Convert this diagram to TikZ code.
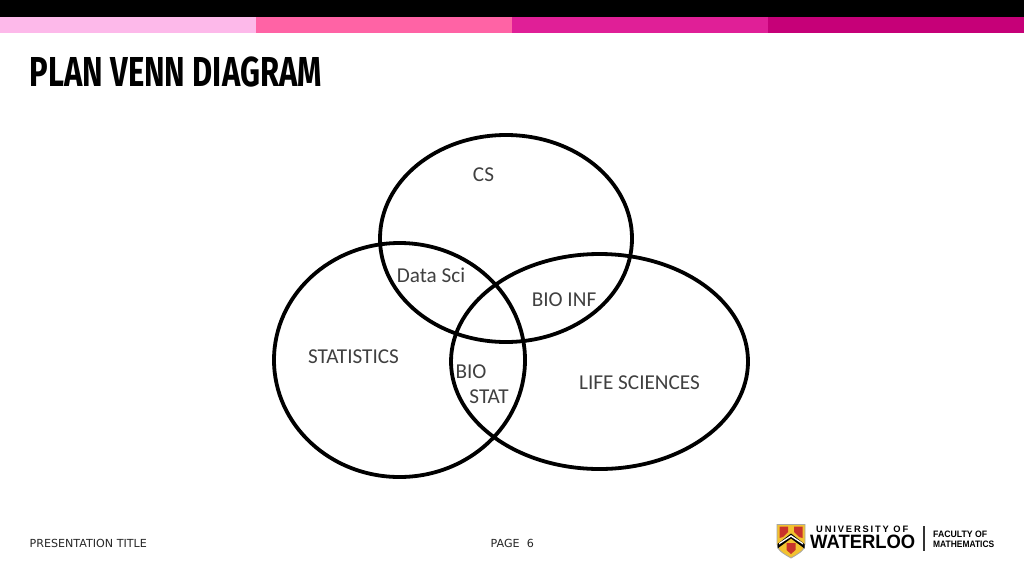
\documentclass[tikz,border=0pt]{standalone}
\usepackage{fontspec}
\setmainfont{Carlito}
\newfontfamily\titlefont{Fira Sans}
\newfontfamily\footfont{DejaVu Sans}
\newfontfamily\logofont{Liberation Sans}
\newfontfamily\logospaced[LetterSpace=20]{Liberation Sans}
\definecolor{barA}{HTML}{FDB9EA}
\definecolor{barB}{HTML}{FF63A5}
\definecolor{barC}{HTML}{E01F97}
\definecolor{barD}{HTML}{C60078}
\definecolor{lab}{HTML}{404040}
\definecolor{shieldgold}{HTML}{F2C230}
\definecolor{shieldred}{HTML}{C8332B}
\tikzset{
  x=1pt,y=-1pt,
  vring/.style={draw=black,line width=3.8pt,fill=none},
  vlab/.style={inner sep=0pt,text=lab,font=\fontsize{21.2}{21}\selectfont},
  foot/.style={inner sep=0pt,anchor=west,text=black!85,font=\footfont\fontsize{11.1}{11}\selectfont},
  barfill/.style={fill=#1,draw=none},
  logotxt/.style={inner sep=0pt,anchor=west,text=black,font=\logofont\bfseries}
}
\begin{document}
\begin{tikzpicture}
\useasboundingbox (0,0) rectangle (1024,576);
\fill[white] (0,0) rectangle (1024,576);
\fill[black] (0,0) rectangle (1024,16.5);
\fill[barfill=barA] (0,16.5) rectangle (256,33);
\fill[barfill=barB] (256,16.5) rectangle (512,33);
\fill[barfill=barC] (512,16.5) rectangle (768,33);
\fill[barfill=barD] (768,16.5) rectangle (1024,33);
\node[inner sep=0pt,anchor=west] (title) at (29.5,72) {\resizebox{292pt}{!}{\scalebox{0.74}[1]{\titlefont\bfseries\fontsize{37}{37}\selectfont PLAN VENN DIAGRAM}}};
% Venn rings
\draw[vring] (506,238.5) ellipse [x radius=126, y radius=103.5];
\draw[vring] (399.5,360) ellipse [x radius=125.5, y radius=117];
\draw[vring] (599.5,361.5) ellipse [x radius=148.5, y radius=107.5];
% Venn labels
\node[vlab] (cs) at (483.5,175) {CS};
\node[vlab] (datasci) at (431,275.5) {Data Sci};
\node[vlab] (bioinf) at (564,299.5) {BIO INF};
\node[vlab] (stats) at (353.5,357) {STATISTICS};
\node[vlab] (bio) at (471,371.5) {BIO};
\node[vlab] (stat) at (489,396.5) {STAT};
\node[vlab] (life) at (639.5,382.5) {LIFE SCIENCES};
% Footer
\node[foot] (ftitle) at (29.5,543) {PRESENTATION TITLE};
\node[foot] (fpage) at (490.5,543) {PAGE\ \ 6};
% Logo shield
\draw[draw=black!35,line width=0.8pt,fill=shieldgold] (777,524.5) -- (805,524.5) -- (805,544) .. controls (805,551) and (796,555) .. (791,558) .. controls (786,555) and (777,551) .. (777,544) -- cycle;
\fill[black] (777.5,544) -- (791,533.5) -- (804.5,544) -- (804.5,548.5) -- (791,538.5) -- (777.5,548.5) -- cycle;
\fill[white] (779,543) -- (791,535) -- (803,543) -- (803,544.5) -- (791,536.8) -- (779,544.5) -- cycle;
\fill[shieldred] (779.5,526.5) -- (788,526.5) -- (788,532) -- (783,537) -- (779.5,538) -- cycle;
\fill[shieldred] (794,526.5) -- (802.5,526.5) -- (802.5,538) -- (799,537) -- (794,532) -- cycle;
\fill[shieldred] (786.5,543) -- (795.5,543) -- (795.5,550) -- (791,554) -- (786.5,550) -- cycle;
% Logo text
\node[logotxt] (univ) at (816,529.5) {\resizebox{92pt}{6.5pt}{\logospaced UNIVERSITY OF}};
\node[logotxt] (wat) at (810,541.5) {\resizebox{105pt}{13.5pt}{\logofont\bfseries WATERLOO}};
\draw[black!80,line width=1.2pt] (924,526) -- (924,551);
\node[logotxt] (fac) at (933,534) {\resizebox{54pt}{6.5pt}{FACULTY OF}};
\node[logotxt] (math) at (933,544) {\resizebox{61pt}{6.5pt}{MATHEMATICS}};
\end{tikzpicture}
\end{document}
